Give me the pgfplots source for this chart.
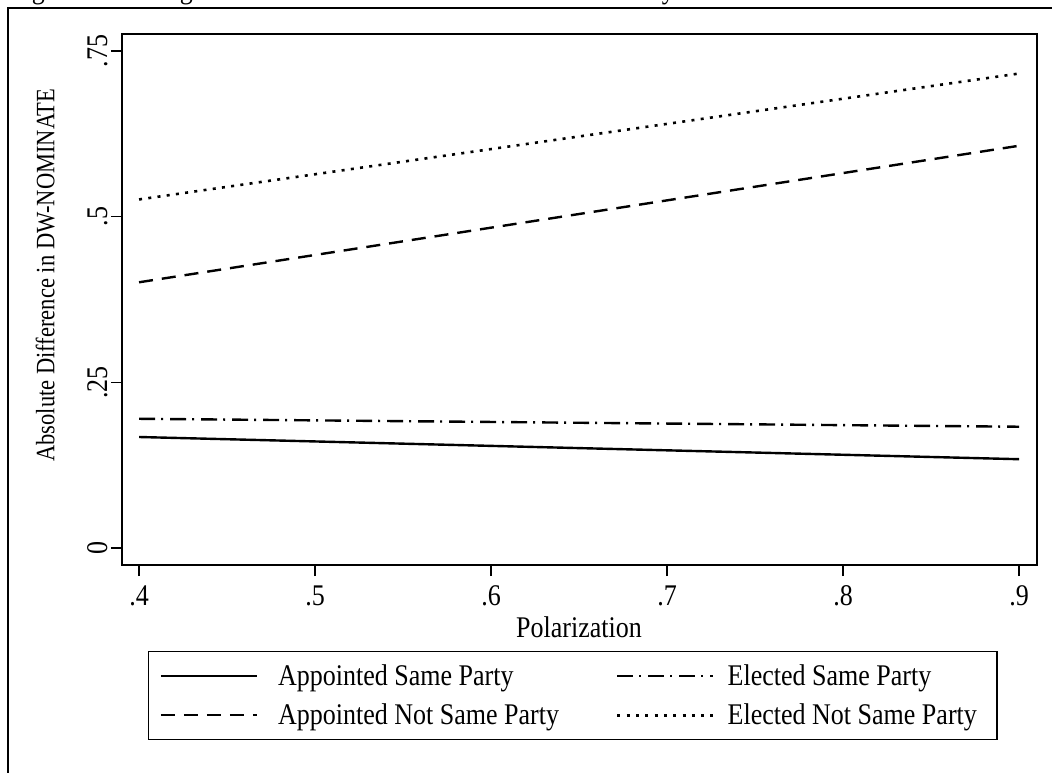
\documentclass[border=0pt]{standalone}
\usepackage{fontspec}
\setmainfont{Liberation Serif}
\newfontfamily\cond[FakeStretch=0.867]{Liberation Serif}
\newfontfamily\condl[FakeStretch=0.85]{Liberation Serif}
\usepackage{pgfplots}
\pgfplotsset{compat=1.18}
\newcommand\fs{\cond\fontsize{30}{34}\selectfont}
\begin{document}
\begin{tikzpicture}
\useasboundingbox (0pt,0pt) rectangle (1052pt,772pt);
\draw[line width=1.5pt] (8pt,-20pt) -- (8pt,764pt) -- (1080pt,764pt);
\node[anchor=base west, inner sep=0, font=\fs] at (10pt,773pt) {Figure 3: Ideological Distance between Same-State Senators by Polarization};
\begin{axis}[
 at={(122pt,224pt)}, anchor=origin,
 scale only axis, width=915pt, height=531pt,
 xmin=0.3903, xmax=0.9102, ymin=-0.0257, ymax=0.7756,
 axis line style={line width=1.8pt},
 xtick={0.4,0.5,0.6,0.7,0.8,0.9},
 xticklabels={.4,.5,.6,.7,.8,.9},
 ytick={0,0.25,0.5,0.75}, yticklabels={0,.25,.5,.75},
 tick align=outside, xtick pos=bottom, ytick pos=left,
 major tick length=11pt,
 tick style={line width=1.6pt, black},
 xticklabel style={font=\fs, yshift=-6pt},
 yticklabel style={font=\fs, rotate=90, anchor=south},
 xlabel={Polarization},
 xlabel style={font=\fs, at={(axis description cs:0.4995,-0.117)}, anchor=center},
 ylabel={Absolute Difference in DW-NOMINATE},
 ylabel style={font=\condl\fontsize{26.5}{30}\selectfont, at={(axis description cs:-0.084,0.546)}, anchor=center, rotate=0},
 legend columns=2,
 legend cell align=left,
 legend image code/.code={\draw[#1] (0pt,0pt) -- (96pt,0pt);},
 legend style={at={(axis description cs:0.0284,-0.162)}, anchor=north west,
   draw=black, line width=1.4pt, font=\fs,
   inner xsep=11pt, inner ysep=13pt,
   nodes={inner sep=0pt},
   row sep=17pt,
   /tikz/column 1/.style={column sep=20pt},
   /tikz/column 2/.style={column sep=57pt},
   /tikz/column 3/.style={column sep=13pt}},
]
\addplot[black, line width=2.4pt] coordinates {(0.4,0.1675) (0.9,0.134)};
\addlegendentry{Appointed Same Party}
\addplot[black, line width=2.4pt, dash pattern=on 16pt off 6pt on 2pt off 7pt] coordinates {(0.4,0.195) (0.9,0.183)};
\addlegendentry{Elected Same Party}
\addplot[black, line width=2.4pt, dash pattern=on 14pt off 9pt] coordinates {(0.4,0.401) (0.9,0.607)};
\addlegendentry{Appointed Not Same Party}
\addplot[black, line width=2.6pt, dash pattern=on 3pt off 6.3pt] coordinates {(0.4,0.526) (0.9,0.716)};
\addlegendentry{Elected Not Same Party\hspace*{9pt}}
\end{axis}
\end{tikzpicture}
\end{document}
